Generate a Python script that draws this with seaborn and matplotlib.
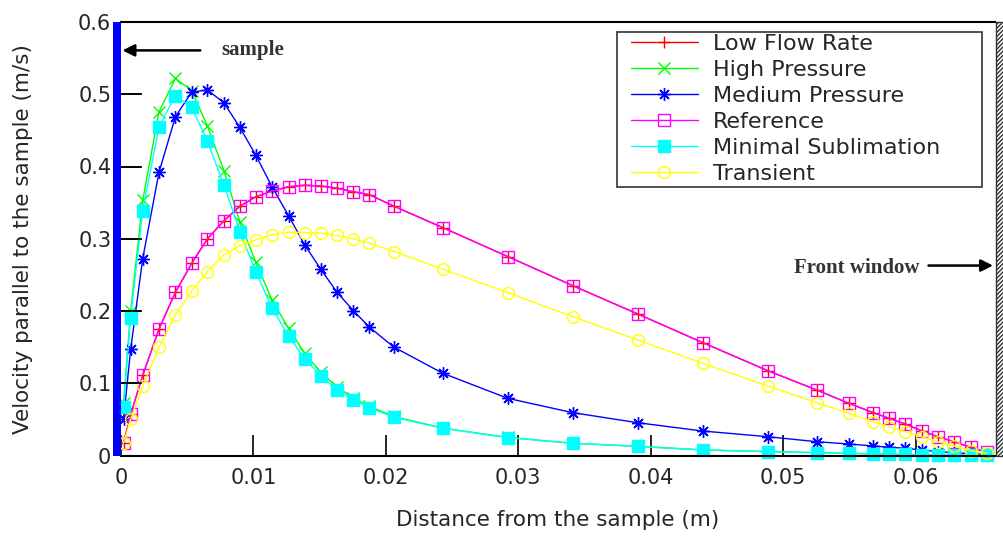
import matplotlib
matplotlib.use("Agg")
import matplotlib.pyplot as plt
from matplotlib.patches import Rectangle
import seaborn as sns

# distance from the sample (m), shared mesh for all cases
distance = [0.00019, 0.00073, 0.00164, 0.00287, 0.00411, 0.00534, 0.00653, 0.00778,
            0.00898, 0.01017, 0.0114, 0.01265, 0.01387, 0.01508, 0.01631, 0.01754,
            0.01876, 0.02061, 0.02429, 0.0292, 0.0341, 0.03901, 0.04392, 0.04883,
            0.05253, 0.05496, 0.0568, 0.05801, 0.05924, 0.06045, 0.06168, 0.06291,
            0.06415, 0.06538]

low_flow_rate = [0.017, 0.057, 0.111, 0.175, 0.226, 0.266, 0.300, 0.325, 0.345, 0.358,
                 0.366, 0.372, 0.374, 0.373, 0.370, 0.365, 0.361, 0.345, 0.3155, 0.2754,
                 0.2352, 0.196, 0.1563, 0.1175, 0.0907, 0.0723, 0.0593, 0.0515, 0.0436,
                 0.0343, 0.026, 0.019, 0.0114, 0.0044]
high_pressure = [0.072, 0.200, 0.353, 0.476, 0.522, 0.505, 0.456, 0.394, 0.323, 0.268,
                 0.2154, 0.176, 0.1415, 0.115, 0.095, 0.080, 0.068, 0.054, 0.038, 0.025,
                 0.017, 0.0128, 0.0078, 0.0054, 0.004, 0.003, 0.0022, 0.0018, 0.0014,
                 0.0011, 0.0008, 0.0005, 0.0003, 0.0001]
medium_pressure = [0.050, 0.147, 0.2726, 0.392, 0.469, 0.503, 0.506, 0.488, 0.454, 0.416,
                   0.372, 0.332, 0.2915, 0.258, 0.226, 0.2006, 0.1776, 0.150, 0.1139, 0.0792,
                   0.0593, 0.0454, 0.0339, 0.026, 0.0191, 0.0159, 0.0132, 0.0114, 0.010,
                   0.0076, 0.0055, 0.0038, 0.0025, 0.0012]
reference = [0.017, 0.057, 0.111, 0.175, 0.226, 0.266, 0.300, 0.325, 0.345, 0.358,
             0.366, 0.372, 0.374, 0.373, 0.370, 0.365, 0.361, 0.345, 0.3155, 0.2754,
             0.2352, 0.196, 0.1563, 0.1175, 0.0907, 0.0723, 0.0593, 0.0515, 0.0436,
             0.0343, 0.026, 0.019, 0.0114, 0.0044]
minimal_sublimation = [0.0676, 0.191, 0.339, 0.455, 0.498, 0.482, 0.435, 0.374, 0.310, 0.2546,
                       0.2039, 0.1655, 0.1337, 0.1105, 0.0911, 0.0773, 0.0662, 0.0529, 0.0377,
                       0.0247, 0.0169, 0.0125, 0.0076, 0.0053, 0.0039, 0.003, 0.0022, 0.0018,
                       0.0014, 0.0011, 0.0008, 0.0005, 0.0003, 0.0001]
transient = [0.017, 0.050, 0.096, 0.150, 0.1946, 0.2278, 0.2546, 0.2777, 0.2906, 0.2985,
             0.3054, 0.309, 0.3086, 0.3078, 0.3045, 0.2999, 0.294, 0.2823, 0.258, 0.2255,
             0.1922, 0.160, 0.1277, 0.0963, 0.0731, 0.0584, 0.0468, 0.0399, 0.033,
             0.026, 0.0191, 0.0132, 0.0067, 0.003]

labels = ["Low Flow Rate", "High Pressure", "Medium Pressure",
          "Reference", "Minimal Sublimation", "Transient"]
series = [low_flow_rate, high_pressure, medium_pressure,
          reference, minimal_sublimation, transient]

x_ticks = [0, 0.01, 0.02, 0.03, 0.04, 0.05, 0.06]
x_tick_labels = ["0", "0.01", "0.02", "0.03", "0.04", "0.05", "0.06"]
y_ticks = [0, 0.1, 0.2, 0.3, 0.4, 0.5, 0.6]
y_tick_labels = ["0", "0.1", "0.2", "0.3", "0.4", "0.5", "0.6"]

# gnuplot-like styles: colour, marker, size, filled
styles = [
    ("#ff0000", "+", 8, False),
    ("#00ff00", "x", 8, False),
    ("#0000ff", (8, 2, 0), 9, False),
    ("#ff00ff", "s", 8, False),
    ("#00ffff", "s", 8, True),
    ("#ffff00", "o", 8.5, False),
]

sns.set_style("white")
plt.rcParams["font.family"] = ["DejaVu Sans"]
plt.rcParams["hatch.linewidth"] = 1.0
plt.rcParams["ytick.left"] = True
plt.rcParams["xtick.bottom"] = True

fig = plt.figure(figsize=(10.04, 5.36), dpi=100)
ax = fig.add_axes([121 / 1004, (536 - 455.5) / 536, (995 - 121) / 1004, 433.5 / 536])

for label, ys, (color, marker, ms, filled) in zip(labels, series, styles):
    sns.lineplot(x=distance, y=ys, ax=ax, color=color, label=label,
                 marker=marker, markersize=ms, linewidth=1.0,
                 markeredgecolor=color, markeredgewidth=1.0,
                 markerfacecolor=color if filled else "none",
                 sort=False, clip_on=False)

ax.set_xlim(0, 0.066)
ax.set_ylim(0, 0.6)
ax.set_xticks(x_ticks)
ax.set_xticklabels(x_tick_labels)
ax.set_yticks(y_ticks)
ax.set_yticklabels(y_tick_labels)

for side in ["left", "right"]:
    ax.spines[side].set_visible(False)
for side in ["top", "bottom"]:
    ax.spines[side].set_color("black")
    ax.spines[side].set_linewidth(1.5)

ax.set_xlabel("Distance from the sample (m)", fontsize=15.5)
ax.set_ylabel("Velocity parallel to the sample (m/s)", fontsize=15.5)
ax.xaxis.set_label_coords(0.5, -0.149)
ax.xaxis.label.set_verticalalignment("center")
ax.yaxis.set_label_coords(-0.112, 0.5)
ax.yaxis.label.set_verticalalignment("center")

# inward y tick marks, drawn along the left edge in axes x-coordinates
ax.hlines(y_ticks, 0, 0.023, transform=ax.get_yaxis_transform(),
          colors="black", linewidth=1.2, clip_on=False, zorder=4)

# sample (blue bar) and front window (hatched) at both ends
ax.add_patch(Rectangle((-0.0006, 0), 0.0006, 0.6, facecolor="#0000ff",
                       edgecolor="none", clip_on=False, zorder=5))
ax.add_patch(Rectangle((0.06606, 0), 0.001, 0.6, facecolor="white",
                       edgecolor="#333333", hatch="////////", linewidth=1,
                       clip_on=False, zorder=5))

ax.annotate("", xy=(-0.0001, 0.5607), xytext=(0.0062, 0.5607),
            arrowprops=dict(arrowstyle="-|>", color="black", lw=1.8,
                            mutation_scale=18), annotation_clip=False, zorder=6)
ax.text(0.00756, 0.5547, "sample", family="Liberation Serif", fontweight="bold",
        fontsize=15, color="#333333", va="baseline", ha="left")
ax.annotate("", xy=(0.06606, 0.2629), xytext=(0.06077, 0.2629),
            arrowprops=dict(arrowstyle="-|>", color="black", lw=1.8,
                            mutation_scale=18), annotation_clip=False, zorder=6)
ax.text(0.0603, 0.2524, "Front window", family="Liberation Serif", fontweight="bold",
        fontsize=15, color="#333333", va="baseline", ha="right")

# legend entries without frame, box drawn separately (gnuplot key)
leg = ax.legend(loc="upper left", bbox_to_anchor=(631 / 1004, 1 - 34 / 536),
                bbox_transform=fig.transFigure, fontsize=16, frameon=False,
                borderpad=0, labelspacing=0.27, handlelength=3.0,
                handletextpad=0.68, borderaxespad=0)
fig.patches.append(Rectangle((617 / 1004, 1 - 187 / 536), 365 / 1004, 155 / 536,
                             transform=fig.transFigure, facecolor="none",
                             edgecolor="#333333", linewidth=1.2, zorder=10))

ax.tick_params(axis="x", direction="in", length=15, width=1.2, color="black",
               labelsize=15, pad=9, bottom=True, top=False)
ax.tick_params(axis="y", direction="in", length=15, width=1.2, color="black",
               labelsize=15, pad=7, left=True, right=False)

fig.savefig("out.png", dpi=100)
